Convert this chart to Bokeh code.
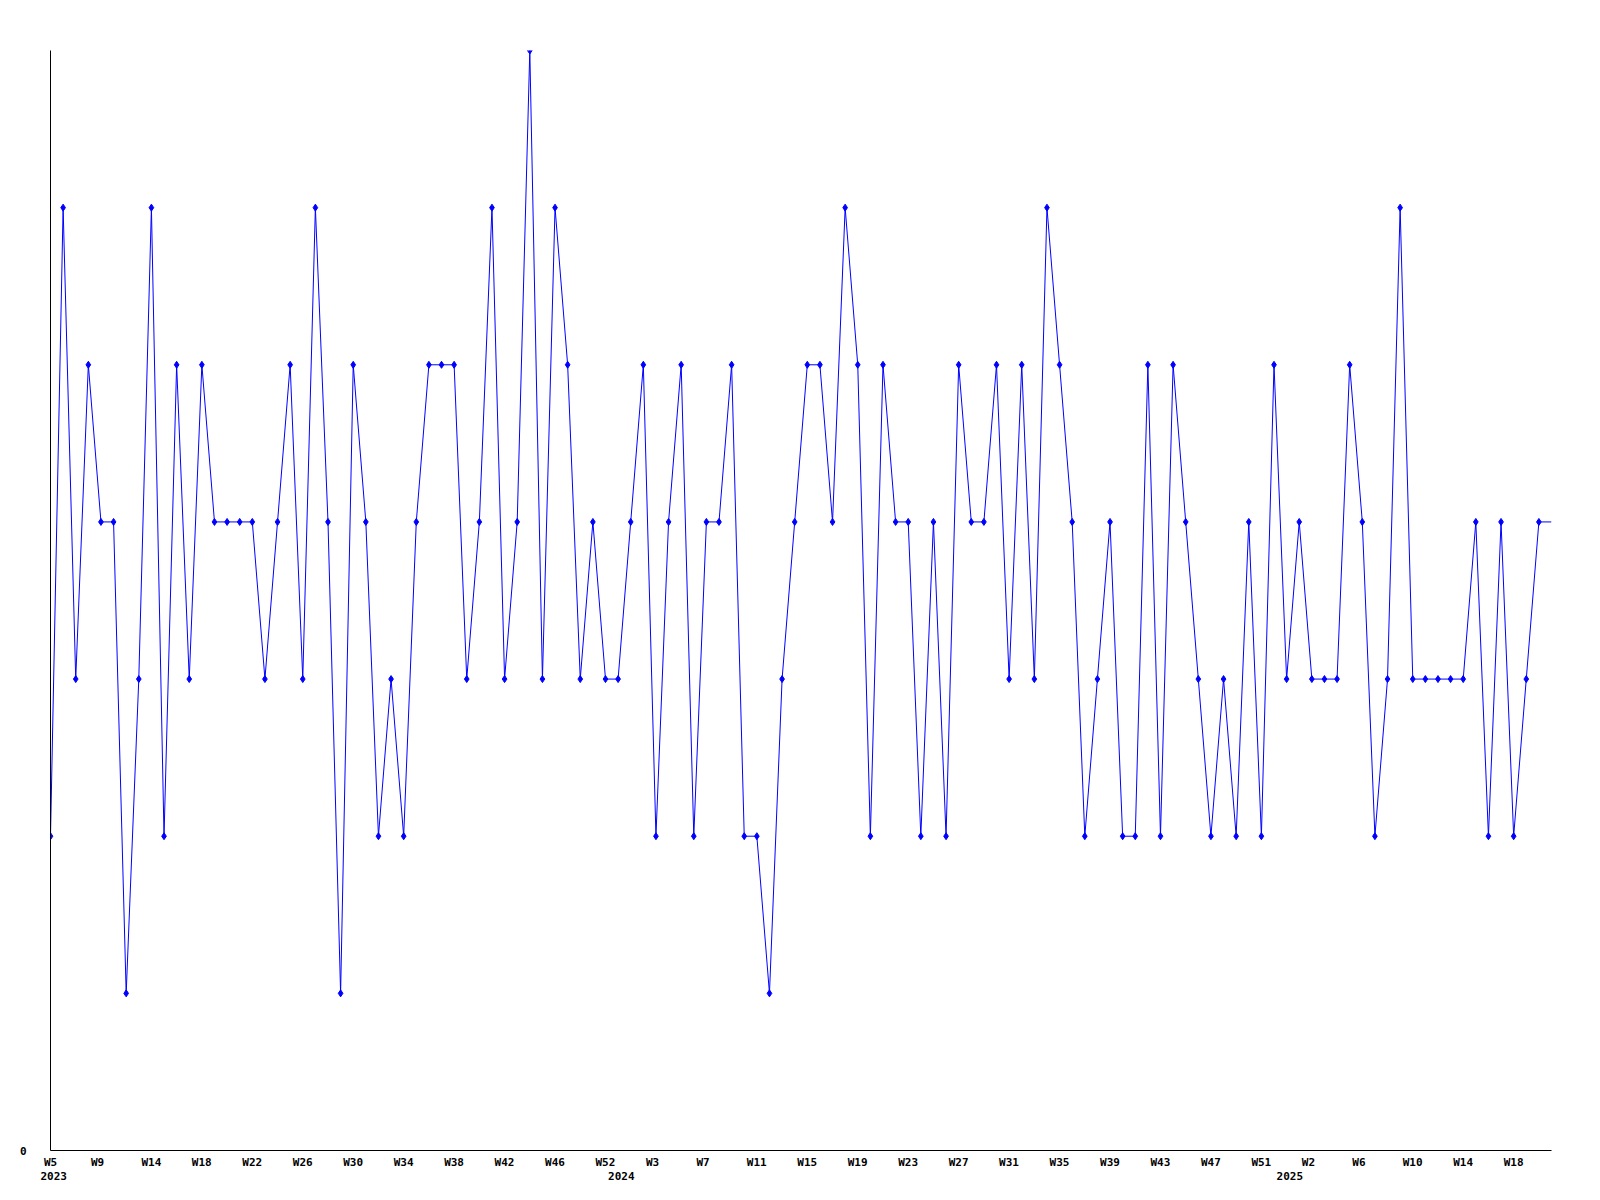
from bokeh.plotting import figure
from bokeh.models import FixedTicker, LinearAxis, Range1d
from bokeh.embed import file_html
from bokeh.resources import INLINE

# weekly values, 2023-W5 .. 2025-W20 (last week has no marker)
counts = [2, 6, 3, 5, 4, 4, 1, 3, 6, 2,
          5, 3, 5, 4, 4, 4, 4, 3, 4, 5,
          3, 6, 4, 1, 5, 4, 2, 3, 2, 4,
          5, 5, 5, 3, 4, 6, 3, 4, 7, 3,
          6, 5, 3, 4, 3, 3, 4, 5, 2, 4,
          5, 2, 4, 4, 5, 2, 2, 1, 3, 4,
          5, 5, 4, 6, 5, 2, 5, 4, 4, 2,
          4, 2, 5, 4, 4, 5, 3, 5, 3, 6,
          5, 4, 2, 3, 4, 2, 2, 5, 2, 5,
          4, 3, 2, 3, 2, 4, 2, 5, 3, 4,
          3, 3, 3, 5, 4, 2, 3, 6, 3, 3,
          3, 3, 3, 4, 2, 4, 2, 3, 4, 4]

# x-axis labels, one every 4 weeks
week_labels = ["W5", "W9", "W14", "W18", "W22", "W26", "W30", "W34", "W38",
               "W42", "W46", "W52", "W3", "W7", "W11", "W15", "W19", "W23",
               "W27", "W31", "W35", "W39", "W43", "W47", "W51", "W2", "W6",
               "W10", "W14", "W18"]
week_label_step = 4

year_labels = ["2023", "2024", "2025"]
year_label_weeks = [0, 45, 98]

y_max = 7

# ---- layout constants ----
W, H = 1584, 1184
BL, BR, BT, BB = 50, 33, 50, 34
FONT = "DejaVu Sans Mono"
FSIZE = 11
ADV = 0.602 * FSIZE          # monospace advance
n_weeks = len(counts) - 1
px_per_unit = (W - BL - BR) / n_weeks


def left_aligned_tick(pos, label):
    # label's left edge sits 10px left of the data position
    off_px = -10 + len(label) * ADV / 2.0
    return max(0.0, round(pos + off_px / px_per_unit, 4))


xs = list(range(len(counts)))

p = figure(width=W, height=H, output_backend="svg", toolbar_location=None,
           x_range=Range1d(0, n_weeks), y_range=Range1d(0, y_max),
           min_border_left=BL, min_border_right=BR,
           min_border_top=BT, min_border_bottom=BB)
p.outline_line_color = None
p.grid.visible = False
p.background_fill_color = "white"
p.border_fill_color = "white"

p.line(xs, counts, line_color="#0000ff", line_width=1)
p.scatter(xs[:-1], counts[:-1], marker="diamond", size=7,
          fill_color="#0000ff", line_color="#0000ff")

# week axis
wt = [left_aligned_tick(k * week_label_step, lab) for k, lab in enumerate(week_labels)]
xa = p.xaxis[0]
xa.ticker = FixedTicker(ticks=wt)
xa.major_label_overrides = {t: lab for t, lab in zip(wt, week_labels)}
xa.major_tick_line_color = None
xa.minor_tick_line_color = None
xa.major_tick_out = 0
xa.major_tick_in = 0
xa.major_label_standoff = 5
xa.axis_line_color = "black"
xa.axis_line_width = 1

# year axis
yt = [left_aligned_tick(w, lab) for w, lab in zip(year_label_weeks, year_labels)]
ya2 = LinearAxis(ticker=FixedTicker(ticks=yt),
                 major_label_overrides={t: lab for t, lab in zip(yt, year_labels)},
                 axis_line_color=None, major_tick_line_color=None,
                 minor_tick_line_color=None, major_tick_out=0, major_tick_in=0,
                 major_label_standoff=0)
p.add_layout(ya2, "below")

# y axis
ya = p.yaxis[0]
ya.ticker = FixedTicker(ticks=[0])
ya.major_tick_line_color = None
ya.minor_tick_line_color = None
ya.major_tick_out = 0
ya.major_tick_in = 0
ya.major_label_standoff = 24
ya.axis_line_color = "black"
ya.axis_line_width = 1

for ax in [xa, ya2, ya]:
    ax.major_label_text_font = FONT
    ax.major_label_text_font_style = "bold"
    ax.major_label_text_font_size = f"{FSIZE}px"
    ax.major_label_text_color = "black"

open("out.html", "w").write(file_html(p, INLINE))
